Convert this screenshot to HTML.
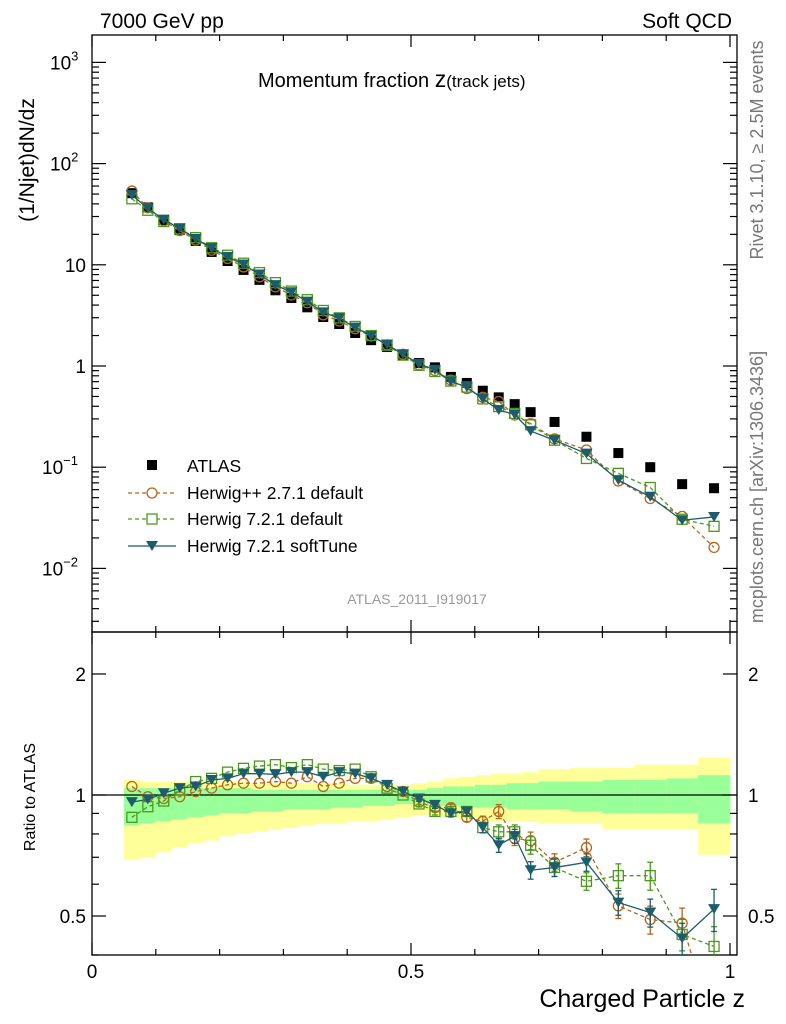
<!DOCTYPE html>
<html><head><meta charset="utf-8"><style>
body{margin:0;background:#fff;}
svg{display:block;font-family:"Liberation Sans",sans-serif;}
</style></head><body>
<svg id="chart" width="786" height="1024" viewBox="0 0 786 1024">
<g id="bands"></g><g id="axes"></g><g id="series"></g>
<text x="100" y="28" font-size="21">7000 GeV pp</text>
<text x="732" y="28" font-size="21" text-anchor="end">Soft QCD</text>
<text x="258" y="87" font-size="20">Momentum fraction <tspan font-size="23">z</tspan><tspan font-size="17">(track jets)</tspan></text>
<text transform="translate(34,160) rotate(-90)" font-size="21" text-anchor="middle">(1/Njet)dN/dz</text>
<text transform="translate(35,797) rotate(-90)" font-size="16" text-anchor="middle">Ratio to ATLAS</text>
<text x="745" y="1007" font-size="25" text-anchor="end">Charged Particle z</text>
<text transform="translate(763,150) rotate(-90)" font-size="18" fill="#777" text-anchor="middle">Rivet 3.1.10, ≥ 2.5M events</text>
<text transform="translate(763,487) rotate(-90)" font-size="18" fill="#777" text-anchor="middle">mcplots.cern.ch [arXiv:1306.3436]</text>
<text x="417" y="604" font-size="14" fill="#999" text-anchor="middle">ATLAS_2011_I919017</text>
<g id="legend">
<rect x="147" y="460" width="10" height="10" fill="#000"/>
<text x="187" y="472" font-size="17.5">ATLAS</text>
<line x1="128" y1="493" x2="176" y2="493" stroke="#b5651d" stroke-width="1.3" stroke-dasharray="4,3"/>
<circle cx="152" cy="493" r="5" fill="#fff" stroke="#b5651d" stroke-width="1.3"/>
<text x="187" y="499" font-size="17.5">Herwig++ 2.7.1 default</text>
<line x1="128" y1="519" x2="176" y2="519" stroke="#4a9a1a" stroke-width="1.3" stroke-dasharray="4,3"/>
<rect x="147" y="514" width="10" height="10" fill="#fff" stroke="#4a9a1a" stroke-width="1.3"/>
<text x="187" y="525" font-size="17.5">Herwig 7.2.1 default</text>
<line x1="128" y1="546" x2="176" y2="546" stroke="#1d5c6c" stroke-width="1.3"/>
<path d="M146,541 L158,541 L152,551 Z" fill="#1d5c6c"/>
<text x="187" y="552" font-size="17.5">Herwig 7.2.1 softTune</text>
</g>
</svg>
<script>
const binEdges=[0.05,0.075,0.1,0.125,0.15,0.175,0.2,0.225,0.25,0.275,0.3,0.325,0.35,0.375,0.4,0.425,0.45,0.475,0.5,0.525,0.55,0.575,0.6,0.625,0.65,0.675,0.7,0.75,0.8,0.85,0.9,0.95,1.0];
const atlas=[51,37,27.7,22,17.2,13.4,10.9,8.9,7.1,5.6,4.7,3.8,3.05,2.6,2.12,1.8,1.54,1.28,1.07,0.97,0.78,0.68,0.57,0.49,0.42,0.35,0.28,0.20,0.138,0.10,0.068,0.062];
const ratioHpp=[1.05,0.99,0.98,0.99,1.02,1.04,1.06,1.07,1.07,1.08,1.07,1.11,1.05,1.07,1.10,1.10,1.05,1.02,0.96,0.93,0.93,0.88,0.86,0.91,0.78,0.77,0.68,0.74,0.53,0.49,0.48,0.26];
const ratioH7=[0.88,0.935,0.966,1.03,1.08,1.10,1.14,1.165,1.18,1.19,1.17,1.19,1.16,1.15,1.16,1.11,1.04,1.0,0.95,0.91,0.91,0.91,0.83,0.81,0.81,0.75,0.66,0.61,0.63,0.63,0.45,0.42];
const ratioSoft=[0.96,0.975,1.01,1.04,1.05,1.09,1.10,1.13,1.13,1.125,1.14,1.14,1.11,1.14,1.13,1.10,1.06,1.02,0.98,0.945,0.90,0.91,0.83,0.75,0.79,0.65,0.66,0.68,0.54,0.51,0.44,0.52];
const relErr=[0.005,0.005,0.005,0.005,0.005,0.005,0.005,0.005,0.005,0.005,0.005,0.005,0.005,0.005,0.005,0.005,0.01,0.01,0.015,0.02,0.02,0.025,0.03,0.04,0.04,0.05,0.05,0.05,0.07,0.08,0.09,0.12];
const yellowHi=[1.09,1.08,1.08,1.08,1.08,1.08,1.08,1.08,1.07,1.07,1.07,1.07,1.07,1.07,1.06,1.06,1.06,1.06,1.07,1.08,1.10,1.11,1.12,1.13,1.13,1.14,1.16,1.17,1.17,1.19,1.19,1.24];
const yellowLo=[0.69,0.70,0.72,0.74,0.76,0.77,0.79,0.80,0.81,0.82,0.83,0.84,0.85,0.85,0.86,0.86,0.87,0.88,0.89,0.89,0.88,0.87,0.86,0.86,0.86,0.86,0.85,0.85,0.82,0.82,0.82,0.71];
const greenHi=[1.04,1.04,1.04,1.04,1.04,1.04,1.04,1.04,1.03,1.03,1.03,1.03,1.03,1.03,1.03,1.03,1.03,1.03,1.03,1.04,1.05,1.05,1.06,1.06,1.07,1.07,1.08,1.08,1.09,1.09,1.10,1.12];
const greenLo=[0.84,0.85,0.86,0.87,0.88,0.89,0.90,0.90,0.91,0.91,0.92,0.92,0.92,0.93,0.93,0.94,0.94,0.95,0.95,0.94,0.94,0.93,0.93,0.93,0.92,0.92,0.92,0.91,0.90,0.90,0.90,0.85];
const xTicks=[0,0.5,1];
const xTickLabels=["0","0.5","1"];
const NS='http://www.w3.org/2000/svg';
const X0=92,X1=737,PT=35,PB=632,RB=955;
function xs(z){return 92+z*638;}
function ym(v){return 366-101.2*Math.log10(v);}
function yr(r){return 795-402*Math.log10(r);}
function mk(parent,tag,at){const e=document.createElementNS(NS,tag);for(const k in at)e.setAttribute(k,at[k]);parent.appendChild(e);return e;}
const axes=document.getElementById('axes'),bands=document.getElementById('bands'),series=document.getElementById('series');
const centers=[];for(let i=0;i<atlas.length;i++)centers.push((binEdges[i]+binEdges[i+1])/2);
for(let i=0;i<atlas.length;i++){
 const xa=xs(binEdges[i]),xb=xs(binEdges[i+1]);
 let e=mk(bands,'rect',{x:xa,y:yr(yellowHi[i]),width:xb-xa+0.5,height:yr(yellowLo[i])-yr(yellowHi[i]),fill:'#ffff99'});
 
 
 e=mk(bands,'rect',{x:xa,y:yr(greenHi[i]),width:xb-xa+0.5,height:yr(greenLo[i])-yr(greenHi[i]),fill:'#99ff99'});
 
 
}
let f=mk(axes,'rect',{x:X0,y:PT,width:X1-X0,height:PB-PT,fill:'none',stroke:'#000','stroke-width':1.3});


f=mk(axes,'rect',{x:X0,y:PB,width:X1-X0,height:RB-PB,fill:'none',stroke:'#000','stroke-width':1.3});


let l=mk(axes,'line',{x1:X0,x2:X1,y1:yr(1),y2:yr(1),stroke:'#000','stroke-width':1.2});


for(let k=0;k<=10;k++){const z=k/10,x=xs(z),len=(k%5==0)?12:6;
 for(const [yb,yt] of [[PB,PT],[RB,PB]]){
  mk(axes,'line',{x1:x,x2:x,y1:yb,y2:yb-len,stroke:'#000','stroke-width':1.2});
  mk(axes,'line',{x1:x,x2:x,y1:yt,y2:yt+len,stroke:'#000','stroke-width':1.2});}}
xTicks.forEach((z,i)=>{const t=mk(axes,'text',{x:xs(z),y:978,'font-size':19,'text-anchor':'middle'});t.textContent=xTickLabels[i];
 
 });
for(let d=-3;d<=3;d++){for(let m=1;m<=9;m++){const v=m*Math.pow(10,d),y=ym(v);if(y<PT||y>PB)continue;const len=m==1?14:7;
 mk(axes,'line',{x1:X0,x2:X0+len,y1:y,y2:y,stroke:'#000','stroke-width':1.2});
 mk(axes,'line',{x1:X1,x2:X1-len,y1:y,y2:y,stroke:'#000','stroke-width':1.2});}}
const yMainLabels=[[-2,'10','−2'],[-1,'10','−1'],[0,'1',''],[1,'10',''],[2,'10','2'],[3,'10','3']];
yMainLabels.forEach(a=>{const t=mk(axes,'text',{x:a[2]?72:86,y:ym(Math.pow(10,a[0]))+7,'font-size':19,'text-anchor':'end'});t.textContent=a[1];
 if(a[2]){const s=mk(t,'tspan',{dy:-9,'font-size':13});s.textContent=a[2];t.setAttribute('text-anchor','start');t.setAttribute('x',a[0]<0?42:50);}
 
 });
[0.4,0.5,0.6,0.7,0.8,0.9,1,2].forEach(r=>{const y=yr(r);if(y<PB||y>RB)return;const len=(r==1||r==2||r==0.5)?14:7;
 mk(axes,'line',{x1:X0,x2:X0+len,y1:y,y2:y,stroke:'#000','stroke-width':1.2});
 mk(axes,'line',{x1:X1,x2:X1-len,y1:y,y2:y,stroke:'#000','stroke-width':1.2});});
[[2,'2'],[1,'1'],[0.5,'0.5']].forEach(a=>{
 let t=mk(axes,'text',{x:86,y:yr(a[0])+7,'font-size':19,'text-anchor':'end'});t.textContent=a[1];
 
 
 t=mk(axes,'text',{x:748,y:yr(a[0])+7,'font-size':19});t.textContent=a[1];
 
 });
const defs=mk(document.getElementById('chart'),'defs',{});
const c1=mk(defs,'clipPath',{id:'cm'});mk(c1,'rect',{x:X0,y:PT,width:X1-X0,height:PB-PT});
const c2=mk(defs,'clipPath',{id:'cr'});mk(c2,'rect',{x:X0,y:PB,width:X1-X0,height:RB-PB});
const gm=mk(series,'g',{'clip-path':'url(#cm)'}),gr=mk(series,'g',{'clip-path':'url(#cr)'});
function marker(g,type,x,y,col,name){let e;
 if(type=='c')e=mk(g,'circle',{cx:x,cy:y,r:5,fill:'none',stroke:col,'stroke-width':1.3});
 else if(type=='s')e=mk(g,'rect',{x:x-5,y:y-5,width:10,height:10,fill:'none',stroke:col,'stroke-width':1.3});
 else if(type=='t')e=mk(g,'path',{d:`M${x-6},${y-5} L${x+6},${y-5} L${x},${y+5} Z`,fill:col});
 else e=mk(g,'rect',{x:x-5,y:y-5,width:10,height:10,fill:col});
 
 }
const mc=[[ratioHpp,'c','#b5651d','4,3','herwigpp'],[ratioH7,'s','#4a9a1a','4,3','herwig7-default'],[ratioSoft,'t','#1d5c6c','','herwig7-softtune']];
atlas.forEach((v,i)=>marker(gm,'a',xs(centers[i]),ym(v),'#000','atlas-point'));
mc.forEach(([rat,type,col,dash,nm])=>{
 let pm='',pr='';
 rat.forEach((r,i)=>{const x=xs(centers[i]);pm+=(i?'L':'M')+x+','+ym(atlas[i]*r);pr+=(i?'L':'M')+x+','+yr(r);});
 let p=mk(gm,'path',{d:pm,fill:'none',stroke:col,'stroke-width':1.3,'stroke-dasharray':dash||'none'});
 
 
 p=mk(gr,'path',{d:pr,fill:'none',stroke:col,'stroke-width':1.3,'stroke-dasharray':dash||'none'});
 
 
 rat.forEach((r,i)=>{const x=xs(centers[i]);
  const e=relErr[i];if(e>0.01){const y1=yr(r*(1+e)),y2=yr(r*(1-e));
   mk(gr,'line',{x1:x,x2:x,y1:y1,y2:y2,stroke:col,'stroke-width':1.3});
   mk(gr,'line',{x1:x-3,x2:x+3,y1:y1,y2:y1,stroke:col,'stroke-width':1.3});
   mk(gr,'line',{x1:x-3,x2:x+3,y1:y2,y2:y2,stroke:col,'stroke-width':1.3});}
  marker(gm,type,x,ym(atlas[i]*r),col,nm+'-point');
  marker(gr,type,x,yr(r),col,nm+'-ratio-point');});
});
</script>
</body></html>
